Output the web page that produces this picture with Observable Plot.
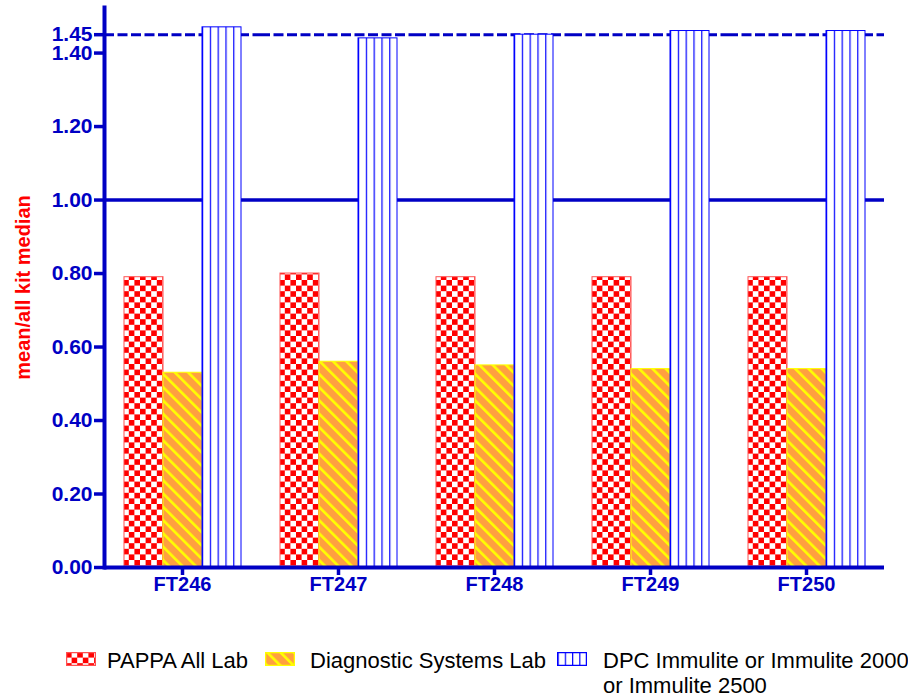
<!DOCTYPE html>
<html>
<head>
<meta charset="utf-8">
<script src="https://cdn.jsdelivr.net/npm/d3@7"></script>
<script src="https://cdn.jsdelivr.net/npm/@observablehq/plot@0.6"></script>
<style>
  body { margin: 0; background: #fff; font-family: "Liberation Sans", Arial, sans-serif; }
  #wrap { position: relative; width: 908px; height: 698px; overflow: hidden; }
  #chart { position: absolute; left: 0; top: 0; }
  .lg { position: absolute; font-size: 22px; line-height: 25px; color: #000; white-space: nowrap; }
  .sw { position: absolute; display: block; }
  g[aria-label^="y-axis"] line, g[aria-label^="y-axis"] path,
  g[aria-label^="fx-axis"] line, g[aria-label^="fx-axis"] path { stroke-width: 3.5px; }
  g[aria-label="y-axis tick label"] { font-size: 21px; }
</style>
</head>
<body>
<div id="wrap"><div id="chart"></div></div>
<script>
// ---- data ----
const groups = ["FT246", "FT247", "FT248", "FT249", "FT250"];
const series = ["PAPPA All Lab", "Diagnostic Systems Lab", "DPC Immulite or Immulite 2000 or Immulite 2500"];
const pappaAllLab = [0.79, 0.80, 0.79, 0.79, 0.79];
const diagnosticSystemsLab = [0.53, 0.56, 0.55, 0.54, 0.54];
const dpcImmulite = [1.47, 1.44, 1.45, 1.46, 1.46];
const yTicks = [0.00, 0.20, 0.40, 0.60, 0.80, 1.00, 1.20, 1.40, 1.45];
const yLabel = "mean/all kit median";
const refSolid = [1.00];
const refDashed = [1.45];
const yMax = 1.524;

const AXIS = "#0000C4";
const seriesValues = [pappaAllLab, diagnosticSystemsLab, dpcImmulite];
const table = [];
groups.forEach((g, i) => series.forEach((s, j) => table.push({group: g, series: s, value: seriesValues[j][i]})));

const fills = ["url(#pChecker)", "url(#pStripe)", "url(#pVlines)"];
const strokes = ["#ff5050", "#ffff00", "#0000ff"];

const barMarks = series.map((s, j) => Plot.barY(table, {
  filter: d => d.series === s,
  x: "series", y: "value",
  fill: fills[j], stroke: strokes[j], strokeWidth: 1
}));

const chart = Plot.plot({
  width: 908, height: 610,
  marginTop: 7, marginBottom: 43, marginLeft: 104, marginRight: 24,
  style: {fontFamily: "'Liberation Sans', Arial, sans-serif", fontSize: "20px", fontWeight: "bold", color: AXIS, background: "white", overflow: "visible"},
  facet: {data: table, x: "group"},
  fx: {domain: groups, padding: 0, axis: "bottom", label: null, tickSize: 8, tickPadding: 1},
  x: {domain: series, paddingInner: 0, paddingOuter: 0.5, axis: null},
  y: {domain: [0, yMax], ticks: yTicks, tickFormat: d3.format(".2f"), tickSize: 10, tickPadding: 2,
      line: true, label: yLabel, labelAnchor: "center", labelOffset: 89, labelArrow: "none"},
  marks: [
    Plot.ruleY(refSolid, {stroke: AXIS, strokeWidth: 3.5}),
    Plot.ruleY(refDashed, {stroke: AXIS, strokeWidth: 3, strokeDasharray: "10,3.5"}),
    ...barMarks,
    Plot.ruleY([0], {stroke: AXIS, strokeWidth: 4})
  ]
});

// pattern definitions
const defs = d3.select(chart).insert("defs", ":first-child");
const chk = defs.append("pattern").attr("id", "pChecker").attr("patternUnits", "userSpaceOnUse").attr("width", 11.2).attr("height", 11.2);
chk.append("rect").attr("width", 11.2).attr("height", 11.2).attr("fill", "#fff");
chk.append("rect").attr("width", 5.6).attr("height", 5.6).attr("fill", "#ff0000");
chk.append("rect").attr("x", 5.6).attr("y", 5.6).attr("width", 5.6).attr("height", 5.6).attr("fill", "#ff0000");
const str = defs.append("pattern").attr("id", "pStripe").attr("patternUnits", "userSpaceOnUse").attr("width", 9.4).attr("height", 9.4).attr("patternTransform", "rotate(-45)");
str.append("rect").attr("width", 9.4).attr("height", 9.4).attr("fill", "#ffa040");
str.append("rect").attr("width", 2.6).attr("height", 9.4).attr("fill", "#ffff00");
const vl = defs.append("pattern").attr("id", "pVlines").attr("patternUnits", "objectBoundingBox").attr("width", 0.2).attr("height", 1);
vl.append("rect").attr("width", 100).attr("height", 2000).attr("fill", "#fff");
vl.append("rect").attr("x", 0).attr("width", 1.2).attr("height", 2000).attr("fill", "#0000ff");
const vl2 = defs.append("pattern").attr("id", "pVlinesLg").attr("patternUnits", "objectBoundingBox").attr("width", 0.25).attr("height", 1);
vl2.append("rect").attr("width", 100).attr("height", 100).attr("fill", "#fff");
vl2.append("rect").attr("x", 0).attr("width", 1.2).attr("height", 100).attr("fill", "#0000ff");

// y label in red (strip any arrow)
d3.select(chart).selectAll("text").filter(function() { return this.textContent.indexOf(yLabel) >= 0; })
  .text(yLabel).attr("fill", "#ff0000").style("fill", "#ff0000");
// thicken y axis line (frame)
d3.select(chart).selectAll('[aria-label*="frame"], [aria-label*="frame"] *')
  .attr("stroke-width", 4).style("stroke-width", "4px");

document.getElementById("chart").appendChild(chart);

// legend (HTML, below the svg)
const wrap = d3.select("#wrap");
const legendItems = [
  {sw: 66, right: 908 - 248, fill: "url(#pChecker)", stroke: "#ff5050", label: [series[0]]},
  {sw: 265, tx: 310, fill: "url(#pStripe)", stroke: "#ffff00", label: [series[1]]},
  {sw: 557, tx: 603, fill: "url(#pVlinesLg)", stroke: "#0000ff", label: ["DPC Immulite or Immulite 2000", "or Immulite 2500"]}
];
legendItems.forEach(it => {
  const s = wrap.append("svg").attr("class", "sw").attr("width", 30).attr("height", 14)
    .style("left", it.sw + "px").style("top", "652px");
  s.append("rect").attr("x", 0.5).attr("y", 0.5).attr("width", 29).attr("height", 13)
    .attr("fill", it.fill).attr("stroke", it.stroke).attr("stroke-width", 1.5);
  const t = wrap.append("div").attr("class", "lg").style("top", "648px");
  if (it.right != null) t.style("right", it.right + "px"); else t.style("left", it.tx + "px");
  it.label.forEach((l, k) => { if (k) t.append("br"); t.append("span").text(l); });
});
</script>
</body>
</html>
